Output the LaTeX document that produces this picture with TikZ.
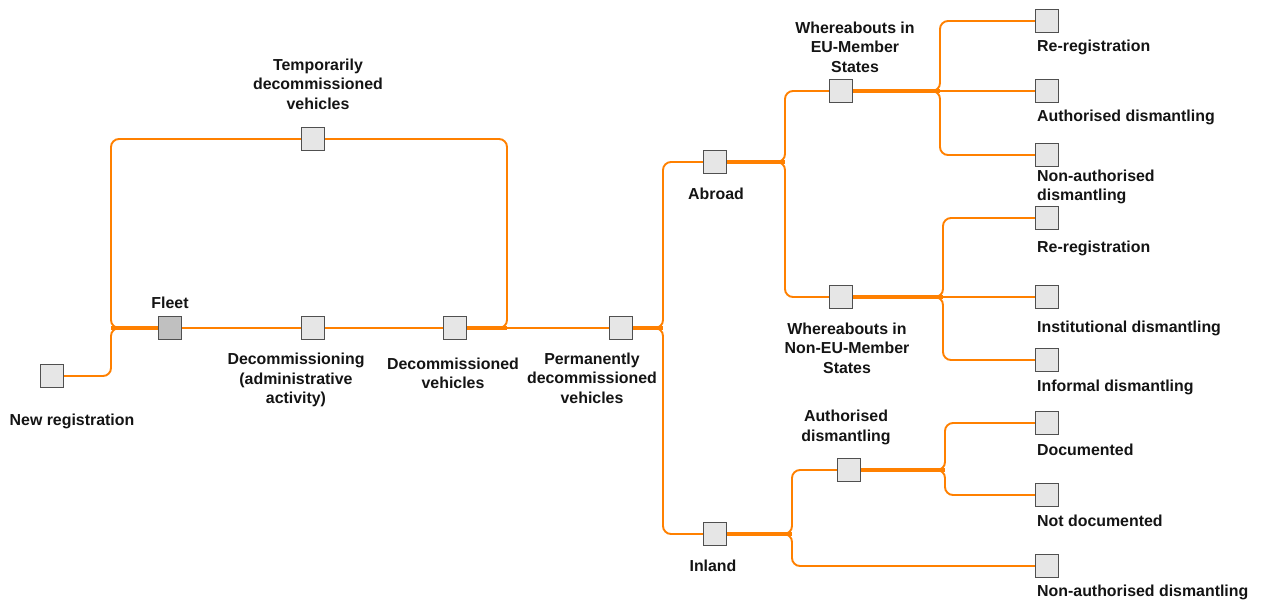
\documentclass[tikz,border=0pt]{standalone}
\usepackage{fontspec}
\setmainfont{Liberation Sans}
\definecolor{flow}{HTML}{FF8000}
\definecolor{boxfill}{HTML}{E6E6E6}
\definecolor{fleetfill}{HTML}{C0C0C0}
\definecolor{boxline}{HTML}{505050}
\begin{document}
\begin{tikzpicture}[x=1pt,y=-1pt,
  stage/.style={draw=boxline,line width=1.2pt,fill=boxfill,minimum size=23pt,inner sep=0pt},
  lbl/.style={font=\fontsize{15.9}{19.5}\selectfont\bfseries,text=black!92,inner sep=0pt,align=center},
  rlbl/.style={lbl,anchor=west,align=left},
  link/.style={draw=flow,line width=1.9pt,rounded corners=8pt},
  trunk/.style={draw=flow,line width=4pt}]
\useasboundingbox (0,0) rectangle (1261,600);

% stage boxes
\node[stage] (nr)    at (52,376) {};
\node[stage,fill=fleetfill] (fleet) at (170,328) {};
\node[stage] (temp)  at (313,139) {};
\node[stage] (dadm)  at (313,328) {};
\node[stage] (decd)  at (455,328) {};
\node[stage] (perm)  at (621,328) {};
\node[stage] (abroad) at (715,162) {};
\node[stage] (eu)    at (841,91) {};
\node[stage] (noneu) at (841,297) {};
\node[stage] (inland) at (715,534) {};
\node[stage] (auth)  at (849,470) {};
\node[stage] (eu1)   at (1047,21) {};
\node[stage] (eu2)   at (1047,91) {};
\node[stage] (eu3)   at (1047,155) {};
\node[stage] (ne1)   at (1047,218) {};
\node[stage] (ne2)   at (1047,297) {};
\node[stage] (ne3)   at (1047,360) {};
\node[stage] (au1)   at (1047,423) {};
\node[stage] (au2)   at (1047,495) {};
\node[stage] (in2)   at (1047,566) {};

% junction points
\coordinate (jf) at (111,328);
\coordinate (jd) at (507,328);
\coordinate (jp) at (663,328);
\coordinate (ja) at (785,162);
\coordinate (je) at (940,91);
\coordinate (jn) at (943,297);
\coordinate (ji) at (792,534);
\coordinate (jau) at (945,470);

% fleet and its loop
\draw[link] (nr.east) -- (nr.east -| jf) -- (jf) -- (fleet.west);
\draw[link] (temp.west) -- (temp.west -| jf) -- (jf) -- (fleet.west);
\draw[trunk] (fleet.west) -- (jf);
\draw[link] (fleet.east) -- (dadm.west);
\draw[link] (dadm.east) -- (decd.west);
\draw[link] (temp.east) -- (temp.east -| jd) -- (jd) -- (decd.east);
\draw[trunk] (decd.east) -- (jd);
\draw[link] (jd) -- (perm.west);

% permanently decommissioned
\draw[link] (abroad.west) -- (abroad.west -| jp) -- (jp) -- (perm.east);
\draw[link] (inland.west) -- (inland.west -| jp) -- (jp) -- (perm.east);
\draw[trunk] (perm.east) -- (jp);

% abroad
\draw[link] (eu.west) -- (eu.west -| ja) -- (ja) -- (abroad.east);
\draw[link] (noneu.west) -- (noneu.west -| ja) -- (ja) -- (abroad.east);
\draw[trunk] (abroad.east) -- (ja);

% EU member states
\draw[link] (eu1.west) -- (eu1.west -| je) -- (je) -- (eu.east);
\draw[link] (eu3.west) -- (eu3.west -| je) -- (je) -- (eu.east);
\draw[link] (je) -- (eu2.west);
\draw[trunk] (eu.east) -- (je);

% non-EU member states
\draw[link] (ne1.west) -- (ne1.west -| jn) -- (jn) -- (noneu.east);
\draw[link] (ne3.west) -- (ne3.west -| jn) -- (jn) -- (noneu.east);
\draw[link] (jn) -- (ne2.west);
\draw[trunk] (noneu.east) -- (jn);

% inland
\draw[link] (auth.west) -- (auth.west -| ji) -- (ji) -- (inland.east);
\draw[link] (in2.west) -- (in2.west -| ji) -- (ji) -- (inland.east);
\draw[trunk] (inland.east) -- (ji);

% authorised dismantling
\draw[link] (au1.west) -- (au1.west -| jau) -- (jau) -- (auth.east);
\draw[link] (au2.west) -- (au2.west -| jau) -- (jau) -- (auth.east);
\draw[trunk] (auth.east) -- (jau);

% labels
\node[lbl] (l-nr) at (72,421) {New registration};
\node[lbl] (l-fleet) at (170,303) {Fleet};
\node[lbl] (l-temp) at (318,84) {Temporarily\\decommissioned\\vehicles};
\node[lbl] (l-dadm) at (296,380) {Decommissioning\\(administrative\\activity)};
\node[lbl] (l-decd) at (453,373.5) {Decommissioned\\vehicles};
\node[lbl] (l-perm) at (592,378) {Permanently\\decommissioned\\vehicles};
\node[lbl] (l-abroad) at (716,194) {Abroad};
\node[lbl] (l-eu) at (855,47) {Whereabouts in\\EU-Member\\States};
\node[lbl] (l-noneu) at (847,348) {Whereabouts in\\Non-EU-Member\\States};
\node[lbl] (l-inland) at (713,566) {Inland};
\node[lbl] (l-auth) at (846,427.5) {Authorised\\dismantling};
\node[rlbl] (l-eu1) at (1037,47) {Re-registration};
\node[rlbl] (l-eu2) at (1037,117) {Authorised dismantling};
\node[rlbl] (l-eu3) at (1037,187) {Non-authorised\\dismantling};
\node[rlbl] (l-ne1) at (1037,248) {Re-registration};
\node[rlbl] (l-ne2) at (1037,328) {Institutional dismantling};
\node[rlbl] (l-ne3) at (1037,387) {Informal dismantling};
\node[rlbl] (l-au1) at (1037,450) {Documented};
\node[rlbl] (l-au2) at (1037,521) {Not documented};
\node[rlbl] (l-in2) at (1037,592) {Non-authorised dismantling};
\end{tikzpicture}
\end{document}
